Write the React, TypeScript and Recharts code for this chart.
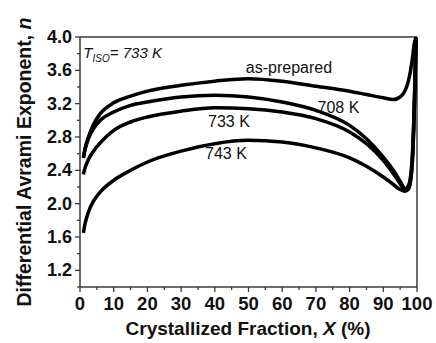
import { CartesianGrid, Line, LineChart, ReferenceDot, ReferenceLine, XAxis, YAxis } from 'recharts'

const X_VALUES = [1, 1.5, 2.5, 4, 6, 10, 15, 20, 30, 40, 50, 60, 70, 80, 85, 90, 93, 95, 96.5, 97.5, 98.5, 99.2, 99.7]
const AS_PREPARED = [2.55, 2.66, 2.8, 2.95, 3.08, 3.21, 3.29, 3.35, 3.42, 3.47, 3.5, 3.47, 3.41, 3.35, 3.31, 3.27, 3.25, 3.28, 3.36, 3.48, 3.7, 3.92, 4.0]
const K708 = [2.55, 2.65, 2.78, 2.9, 3.0, 3.1, 3.18, 3.22, 3.28, 3.3, 3.28, 3.22, 3.12, 2.94, 2.78, 2.56, 2.4, 2.27, 2.18, 2.22, 2.5, 3.2, 3.97]
const K733 = [2.35, 2.43, 2.53, 2.63, 2.73, 2.88, 2.98, 3.04, 3.11, 3.15, 3.14, 3.1, 3.02, 2.86, 2.72, 2.52, 2.36, 2.24, 2.16, 2.18, 2.45, 3.15, 3.97]
const K743 = [1.65, 1.76, 1.9, 2.03, 2.14, 2.28, 2.4, 2.5, 2.63, 2.72, 2.76, 2.74, 2.67, 2.55, 2.45, 2.32, 2.23, 2.17, 2.15, 2.18, 2.42, 3.1, 3.97]

const X_MAJOR = [0, 10, 20, 30, 40, 50, 60, 70, 80, 90, 100]
const X_MINOR = [5, 15, 25, 35, 45, 55, 65, 75, 85, 95]
const Y_MAJOR = [1.2, 1.6, 2.0, 2.4, 2.8, 3.2, 3.6, 4.0]
const Y_MINOR = [1.0, 1.4, 1.8, 2.2, 2.6, 3.0, 3.4, 3.8]

const CURVE_LABELS = [
  { text: 'as-prepared', x: 62, y: 3.63 },
  { text: '708 K', x: 76.7, y: 3.15 },
  { text: '733 K', x: 44.2, y: 2.98 },
  { text: '743 K', x: 43.3, y: 2.6 },
]

const data = X_VALUES.map((x, i) => ({
  x,
  asPrepared: AS_PREPARED[i],
  k708: K708[i],
  k733: K733[i],
  k743: K743[i],
}))

const FONT = '"Liberation Sans", Arial, Helvetica, sans-serif'
const AXIS = '#3a3a3a'

const XTick = ({ x, y, payload }: any) => {
  const major = X_MAJOR.includes(payload.value)
  return (
    <g>
      <line x1={x} x2={x} y1={y} y2={y + (major ? 5 : 3)} stroke={AXIS} strokeWidth={1.3} />
      {major && (
        <text x={x} y={y + 23} textAnchor="middle" fontSize={18.5} fontWeight="bold" fontFamily={FONT} fill="#111">
          {payload.value}
        </text>
      )}
    </g>
  )
}

const YTick = ({ x, y, payload }: any) => {
  const major = Y_MAJOR.some((v) => Math.abs(v - payload.value) < 1e-6)
  return (
    <g>
      <line x1={x} x2={x - (major ? 5 : 3)} y1={y} y2={y} stroke={AXIS} strokeWidth={1.3} />
      {major && (
        <text x={x - 8} y={y + 6} textAnchor="end" fontSize={18} fontWeight="bold" fontFamily={FONT} fill="#111">
          {payload.value.toFixed(1)}
        </text>
      )}
    </g>
  )
}

export default function App() {
  return (
    <div style={{ position: 'absolute', left: 0, top: 0 }}>
      <LineChart width={436} height={343} data={data} margin={{ top: 37, right: 19, bottom: 0, left: 0 }}>
        <CartesianGrid stroke="none" />
        <XAxis
          dataKey="x"
          type="number"
          domain={[0, 100]}
          ticks={[...X_MAJOR, ...X_MINOR].sort((a, b) => a - b)}
          interval={0}
          tickSize={0}
          tickMargin={0}
          tick={XTick}
          height={56}
          axisLine={{ stroke: AXIS, strokeWidth: 1.5 }}
          label={{
            content: () => (
              <text x={248} y={335} textAnchor="middle" fontSize={19} fontWeight="bold" fontFamily={FONT} fill="#111">
                Crystallized Fraction, <tspan fontStyle="italic">X</tspan> (%)
              </text>
            ),
          }}
        />
        <YAxis
          type="number"
          domain={[1, 4]}
          ticks={[...Y_MINOR, ...Y_MAJOR].sort((a, b) => a - b)}
          interval={0}
          tickSize={0}
          tickMargin={0}
          tick={YTick}
          width={80}
          axisLine={{ stroke: AXIS, strokeWidth: 1.5 }}
          label={{
            content: () => (
              <text
                x={24}
                y={162}
                transform="rotate(-90 24 162)"
                textAnchor="middle"
                dominantBaseline="central"
                fontSize={19.5}
                fontWeight="bold"
                fontFamily={FONT}
                fill="#111"
              >
                Differential Avrami Exponent, <tspan fontStyle="italic">n</tspan>
              </text>
            ),
          }}
        />
        <ReferenceLine y={4} stroke={AXIS} strokeWidth={1.5} />
        <ReferenceLine x={100} stroke={AXIS} strokeWidth={1.5} />
        <Line type="monotone" dataKey="asPrepared" stroke="#000" strokeWidth={3.5} dot={false} isAnimationActive={false} />
        <Line type="monotone" dataKey="k708" stroke="#000" strokeWidth={3.5} dot={false} isAnimationActive={false} />
        <Line type="monotone" dataKey="k733" stroke="#000" strokeWidth={3.5} dot={false} isAnimationActive={false} />
        <Line type="monotone" dataKey="k743" stroke="#000" strokeWidth={3.5} dot={false} isAnimationActive={false} />
        {CURVE_LABELS.map((l) => (
          <ReferenceDot
            key={l.text}
            x={l.x}
            y={l.y}
            r={0}
            shape={(p: any) => (
              <text x={p.cx} y={p.cy + 5} textAnchor="middle" fontSize={16} fontFamily={FONT} fill="#111">
                {l.text}
              </text>
            )}
          />
        ))}
        <ReferenceDot
          x={1}
          y={3.75}
          r={0}
          shape={(p: any) => (
            <text x={p.cx} y={p.cy} fontSize={15} fontStyle="italic" fontFamily={FONT} fill="#111">
              T<tspan fontSize={10} dy={4}>ISO</tspan>
              <tspan dy={-4}>= 733 K</tspan>
            </text>
          )}
        />
      </LineChart>
    </div>
  )
}
